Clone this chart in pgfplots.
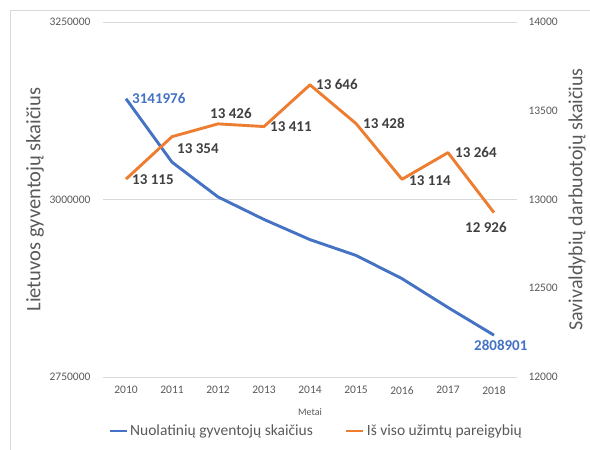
\documentclass[border=0pt]{standalone}
\usepackage{fontspec}
\setmainfont{Carlito}
\usepackage{pgfplots}
\pgfplotsset{compat=1.18}
\definecolor{xblue}{HTML}{4472C4}
\definecolor{xorange}{HTML}{ED7D31}
\definecolor{xgrid}{HTML}{D9D9D9}
\definecolor{xtext}{HTML}{595959}
\definecolor{xlab}{HTML}{404040}

\pgfplotsset{
  common/.style={
    scale only axis, width=414pt, height=355pt,
    at={(103pt,73pt)}, anchor=south west,
    xmin=-0.5, xmax=8.5, xtick={0,...,8},
    major tick length=0pt,
    axis line style={draw=none},
    clip=false,
    scaled y ticks=false,
    /pgf/number format/assume math mode=true,
    tick label style={font=\fontsize{11.5}{13}\selectfont, text=xtext},
    label style={text=xtext},
  },
  lbl/.style={
    nodes near coords, point meta=explicit symbolic,
    visualization depends on={\thisrow{dx}\as\dx},
    visualization depends on={\thisrow{dy}\as\dy},
    every node near coord/.append style={anchor=west, xshift=\dx pt, yshift=\dy pt,
      font=\bfseries\fontsize{15}{18}\selectfont, inner sep=1pt},
  },
}

\begin{document}
\begin{tikzpicture}
\useasboundingbox (0pt,0pt) rectangle (590pt,450pt);
\draw[xgrid, line width=0.8pt] (10pt,0pt) -- (10pt,440pt) -- (590pt,440pt);

\begin{axis}[common,
  ymin=2750000, ymax=3250000,
  ytick={2750000,3000000,3250000},
  yticklabels={2750000,3000000,3250000},
  xticklabels={2010,2011,2012,2013,2014,2015,2016,2017,2018},
  xticklabel style={yshift=-6pt},
  yticklabel style={xshift=-9pt},
  ymajorgrids, grid style={xgrid, line width=0.8pt},
  xlabel={Metai},
  xlabel style={at={(axis description cs:0.5,-0.0986)}, anchor=center, font=\fontsize{10}{12}\selectfont},
  ylabel={Lietuvos gyventojų skaičius},
  ylabel style={at={(axis description cs:-0.164,0.5)}, anchor=center, rotate=0, font=\fontsize{20.5}{24}\selectfont},
]
\addplot[xblue, line width=2.9pt, line join=round, no marks] coordinates {
  (0,3141976) (1,3052588) (2,3003641) (3,2971905) (4,2943472)
  (5,2921262) (6,2888558) (7,2847904) (8,2808901)};
\addplot[draw=none, no marks, forget plot, lbl, every node near coord/.append style={text=xblue}]
  table[x=x,y=y,meta=lab] {
x y lab dx dy
0 3141976 3141976 5 0
8 2808901 2808901 -21 -10
};
\end{axis}

\begin{axis}[common,
  axis x line=none, axis y line*=right,
  ymin=12000, ymax=14000,
  ytick={12000,12500,13000,13500,14000},
  yticklabels={12000,12500,13000,13500,14000},
  yticklabel style={xshift=8pt},
  ylabel={Savivaldybių darbuotojų skaičius},
  ylabel style={at={(axis description cs:1.145,0.5)}, anchor=center, rotate=0, font=\fontsize{20}{24}\selectfont},
  legend style={at={(axis description cs:0.5145,-0.152)}, anchor=center, legend columns=2, draw=none, fill=none,
    font=\fontsize{15.5}{18}\selectfont, text=xtext, inner sep=0pt,
    /tikz/every even column/.append style={column sep=30pt}},
  legend cell align=left,
]
\addlegendimage{xblue, line width=2.9pt}
\addlegendentry{Nuolatinių gyventojų skaičius}
\addplot[xorange, line width=2.9pt, line join=round, no marks] coordinates {
  (0,13115) (1,13354) (2,13426) (3,13411) (4,13646)
  (5,13428) (6,13114) (7,13264) (8,12926)};
\addlegendentry{Iš viso užimtų pareigybių}
\addplot[draw=none, no marks, forget plot, lbl, every node near coord/.append style={text=xlab}]
  table[x=x,y=y,meta=lab] {
x y lab dx dy
0 13115 {13 115} 5 -1
1 13354 {13 354} 4 -12
2 13426 {13 426} -9 10
3 13411 {13 411} 5 0
4 13646 {13 646} 5 0
5 13428 {13 428} 6 0
6 13114 {13 114} 6 -1
7 13264 {13 264} 6 0
8 12926 {12 926} -30 -15
};
\end{axis}
\end{tikzpicture}
\end{document}
